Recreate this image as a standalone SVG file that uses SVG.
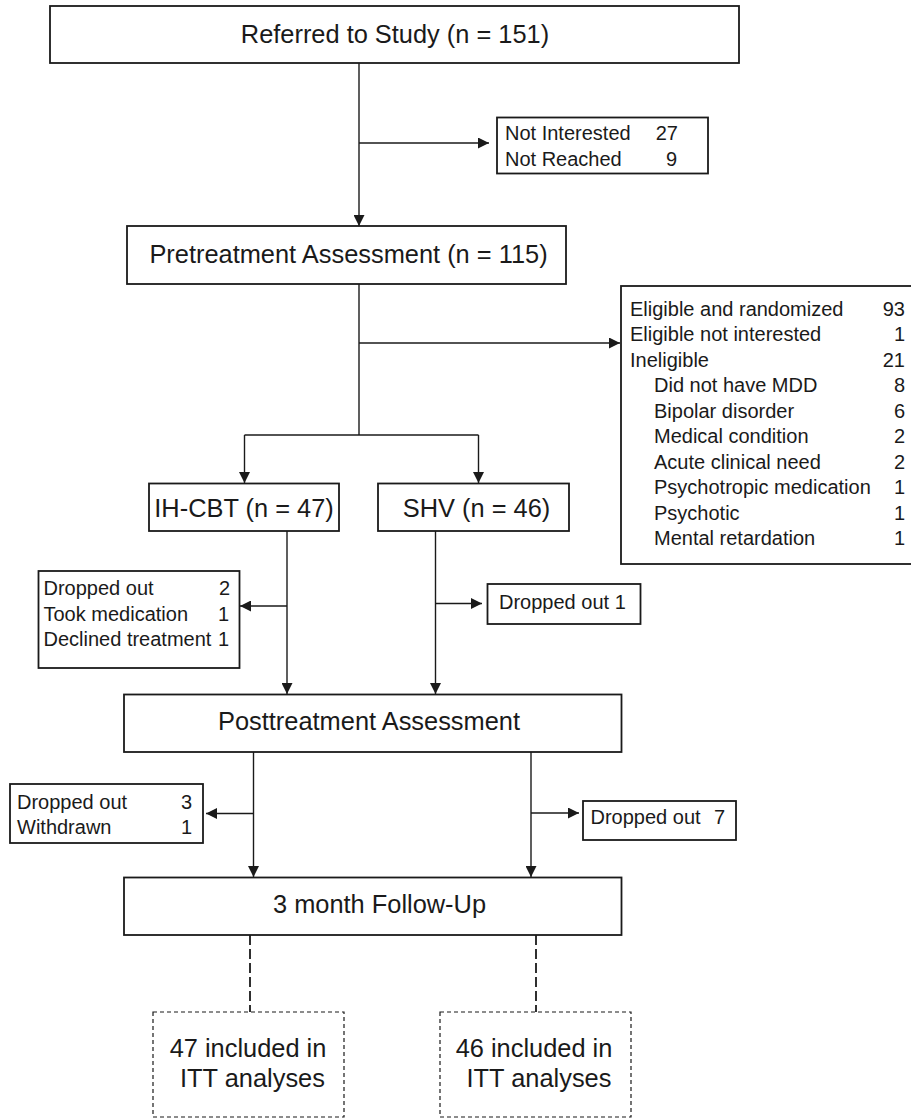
<svg xmlns="http://www.w3.org/2000/svg" width="911" height="1119" viewBox="0 0 911 1119">
<defs>
<marker id="ah" viewBox="0 0 11 11" refX="11" refY="5.5" markerWidth="11" markerHeight="11" markerUnits="userSpaceOnUse" orient="auto">
<path d="M0,0 L11,5.5 L0,11 Z" fill="#1a1a1a"/>
</marker>
<style>
.box{fill:#fff;stroke:#1a1a1a;stroke-width:1.8}
.dbox{fill:#fff;stroke:#1a1a1a;stroke-width:1.2;stroke-dasharray:4 3}
.ln{fill:none;stroke:#1a1a1a;stroke-width:1.4}
.arr{fill:none;stroke:#1a1a1a;stroke-width:1.4;marker-end:url(#ah)}
.dl{fill:none;stroke:#1a1a1a;stroke-width:1.8;stroke-dasharray:10 4}
.big{font-family:"Liberation Sans",Arial,sans-serif;font-size:25.4px;fill:#1a1a1a;text-anchor:middle}
.sm{font-family:"Liberation Sans",Arial,sans-serif;font-size:20px;fill:#1a1a1a}
.e{text-anchor:end}
</style>
</defs>
<g id="connectors">
<path class="arr" d="M359,63 V226"/>
<path class="arr" d="M359,143 H489"/>
<path class="ln" d="M359,284 V435"/>
<path class="arr" d="M359,343 H620"/>
<path class="ln" d="M244.5,435 H478.5"/>
<path class="arr" d="M244.5,435 V483"/>
<path class="arr" d="M478.5,435 V483"/>
<path class="arr" d="M287,531 V694"/>
<path class="arr" d="M287,606 H240"/>
<path class="arr" d="M435.5,531 V694"/>
<path class="arr" d="M435.5,603.5 H482"/>
<path class="arr" d="M253.5,752 V877"/>
<path class="arr" d="M253.5,813.5 H206"/>
<path class="arr" d="M531,752 V877"/>
<path class="arr" d="M531,813 H579"/>
<path class="dl" d="M250,935 V1012"/>
<path class="dl" d="M536,935 V1012"/>
</g>
<g id="referred">
<rect class="box" x="50" y="6" width="689" height="57"/>
<text class="big" x="395" y="43">Referred to Study (n = 151)</text>
</g>
<g id="excluded1">
<rect class="box" x="497" y="117.5" width="211" height="56"/>
<text class="sm" x="505" y="140">Not Interested</text>
<text class="sm e" x="678" y="140">27</text>
<text class="sm" x="505" y="166">Not Reached</text>
<text class="sm e" x="677" y="166">9</text>
</g>
<g id="pretreatment">
<rect class="box" x="127" y="226" width="439" height="58"/>
<text class="big" x="348.5" y="263">Pretreatment Assessment (n = 115)</text>
</g>
<g id="eligibility">
<rect class="box" x="621" y="286" width="300" height="278"/>
<text class="sm" x="630" y="315.7">Eligible and randomized</text>
<text class="sm e" x="905" y="315.7">93</text>
<text class="sm" x="630" y="341.2">Eligible not interested</text>
<text class="sm e" x="905" y="341.2">1</text>
<text class="sm" x="630" y="366.7">Ineligible</text>
<text class="sm e" x="905" y="366.7">21</text>
<text class="sm" x="654" y="392.2">Did not have MDD</text>
<text class="sm e" x="905" y="392.2">8</text>
<text class="sm" x="654" y="417.7">Bipolar disorder</text>
<text class="sm e" x="905" y="417.7">6</text>
<text class="sm" x="654" y="443.2">Medical condition</text>
<text class="sm e" x="905" y="443.2">2</text>
<text class="sm" x="654" y="468.7">Acute clinical need</text>
<text class="sm e" x="905" y="468.7">2</text>
<text class="sm" x="654" y="494.2">Psychotropic medication</text>
<text class="sm e" x="905" y="494.2">1</text>
<text class="sm" x="654" y="519.7">Psychotic</text>
<text class="sm e" x="905" y="519.7">1</text>
<text class="sm" x="654" y="545.2">Mental retardation</text>
<text class="sm e" x="905" y="545.2">1</text>
</g>
<g id="ihcbt">
<rect class="box" x="149" y="483.5" width="190" height="47.5"/>
<text class="big" x="244" y="517">IH-CBT (n = 47)</text>
</g>
<g id="shv">
<rect class="box" x="378" y="483.5" width="191" height="47.5"/>
<text class="big" x="476.5" y="517">SHV (n = 46)</text>
</g>
<g id="dropout-ihcbt">
<rect class="box" x="38.5" y="571" width="201" height="97"/>
<text class="sm" x="43.5" y="595">Dropped out</text>
<text class="sm e" x="230" y="595">2</text>
<text class="sm" x="43.5" y="620.5">Took medication</text>
<text class="sm e" x="229" y="620.5">1</text>
<text class="sm" x="43.5" y="646">Declined treatment</text>
<text class="sm e" x="229" y="646">1</text>
</g>
<g id="dropout-shv">
<rect class="box" x="487.5" y="584" width="153" height="40"/>
<text class="sm" x="499" y="609">Dropped out 1</text>
</g>
<g id="posttreatment">
<rect class="box" x="124" y="694.5" width="497.5" height="57.5"/>
<text class="big" x="369" y="730">Posttreatment Assessment</text>
</g>
<g id="dropout-post-left">
<rect class="box" x="10" y="784" width="193" height="59"/>
<text class="sm" x="17" y="808.5">Dropped out</text>
<text class="sm e" x="192" y="808.5">3</text>
<text class="sm" x="17" y="833.5">Withdrawn</text>
<text class="sm e" x="192" y="833.5">1</text>
</g>
<g id="dropout-post-right">
<rect class="box" x="583" y="801" width="153" height="39"/>
<text class="sm" x="590.5" y="823.5">Dropped out</text>
<text class="sm e" x="725" y="823.5">7</text>
</g>
<g id="followup">
<rect class="box" x="124" y="877.5" width="497.5" height="57.5"/>
<text class="big" x="379.5" y="913">3 month Follow-Up</text>
</g>
<g id="itt-ihcbt">
<rect class="dbox" x="153" y="1012" width="191" height="105"/>
<text class="big" x="248" y="1057">47 included in</text>
<text class="big" x="252.5" y="1087">ITT analyses</text>
</g>
<g id="itt-shv">
<rect class="dbox" x="440" y="1012" width="191" height="105"/>
<text class="big" x="534" y="1057">46 included in</text>
<text class="big" x="539" y="1087">ITT analyses</text>
</g>
</svg>
